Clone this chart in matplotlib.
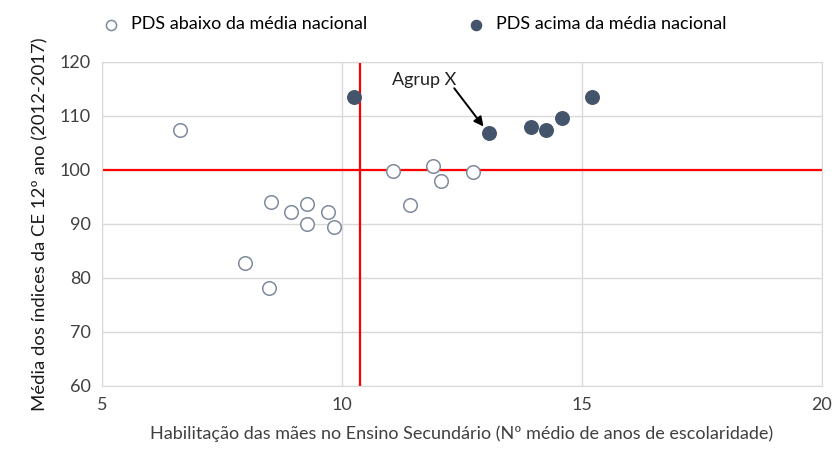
import matplotlib

matplotlib.use("Agg")
import matplotlib.pyplot as plt

# PDS below national average (open markers)
below_x = [6.63, 11.07, 8.53, 8.94, 9.27, 9.71, 9.27, 9.84, 7.99, 8.48, 11.90, 12.07, 11.42, 12.74]
below_y = [107.3, 99.7, 94.1, 92.2, 93.6, 92.2, 89.9, 89.4, 82.7, 78.1, 100.7, 98.0, 93.5, 99.6]
# PDS above national average (filled markers)
above_x = [10.25, 13.06, 13.94, 14.25, 14.58, 15.22]
above_y = [113.4, 106.8, 107.9, 107.4, 109.6, 113.5]

ref_x = 10.37
ref_y = 100

plt.rcParams["font.family"] = ["Lato", "DejaVu Sans"]

fig = plt.figure(figsize=(8.36, 4.54), dpi=100)
ax = fig.add_axes([0.122, 0.150, 0.861, 0.714])

ax.scatter(below_x, below_y, s=95, facecolor="white", edgecolor="#7f8a9c",
           linewidth=1.1, zorder=3, label="PDS abaixo da média nacional")
ax.scatter(above_x, above_y, s=95, color="#44546a", zorder=3,
           label="PDS acima da média nacional")

ax.axvline(ref_x, color="#ff0000", lw=1.6, zorder=2)
ax.axhline(ref_y, color="#ff0000", lw=1.6, zorder=2)

ax.text(11.05, 116.6, "Agrup X", fontsize=13, color="#222222", ha="left", va="center")
ax.annotate("", xy=(12.95, 108.0), xytext=(12.34, 115.1),
            arrowprops=dict(arrowstyle="-|>", color="black", lw=1.4,
                            shrinkA=0, shrinkB=0, mutation_scale=14))

ax.set_xlim(5, 20)
ax.set_ylim(60, 120)
ax.set_xticks([5, 10, 15, 20])
ax.set_yticks(range(60, 121, 10))
ax.grid(True, color="#d9d9d9", lw=1)
ax.set_axisbelow(True)
for s in ax.spines.values():
    s.set_color("#d9d9d9")
ax.tick_params(length=0, labelsize=13, labelcolor="#404040", pad=8)

ax.set_xlabel("Habilitação das mães no Ensino Secundário (Nº médio de anos de escolaridade)",
              fontsize=13, color="#404040", labelpad=9)
ax.set_ylabel("Média dos índices da CE 12º ano (2012-2017)", fontsize=13.3,
              color="#1a1a1a", labelpad=8)

fig.legend(loc="upper center", bbox_to_anchor=(0.49, 1.0), ncol=2, frameon=False,
           fontsize=13, handletextpad=0.1, columnspacing=5, markerscale=0.75)

fig.savefig("out.png", dpi=100)
